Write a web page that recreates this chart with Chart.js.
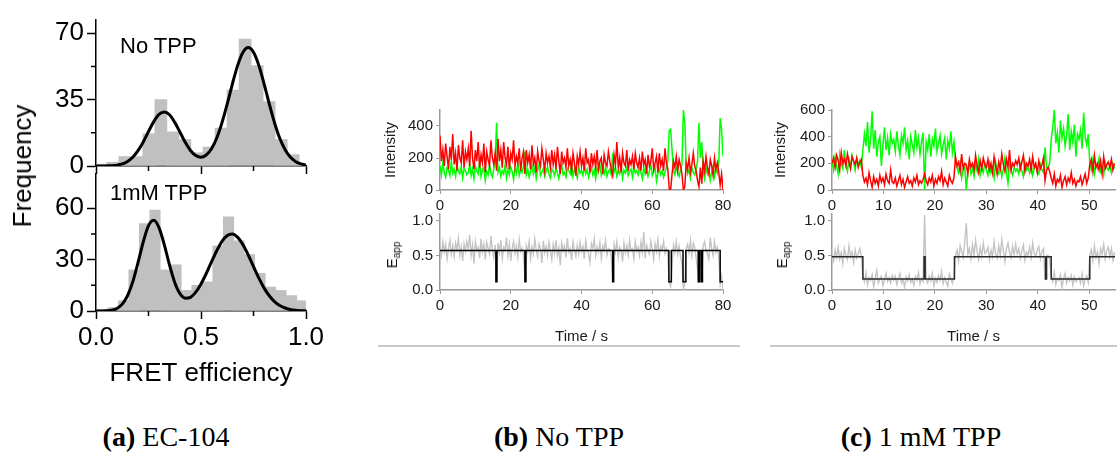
<!DOCTYPE html>
<html>
<head>
<meta charset="utf-8">
<script src="https://cdn.jsdelivr.net/npm/chart.js@4.4.1/dist/chart.umd.min.js"></script>
<style>
  html, body { margin: 0; padding: 0; background: #fff; }
  #fig { position: relative; width: 1117px; height: 460px; overflow: hidden; font-family: "Liberation Sans", Arial, sans-serif; color: #000; }
  canvas { position: absolute; }
  .lbl { position: absolute; white-space: nowrap; line-height: 1; }
  .rot { transform: translate(-50%, -50%) rotate(-90deg); }
  .note { font-size: 22px; transform: translateY(-50%); }
  .eapp { font-size: 15px; color: #111; }
  .eapp sub { font-size: 10px; vertical-align: -3px; }
  .cap { position: absolute; top: 437px; transform: translate(-50%, -50%); font-family: "Liberation Serif", "Times New Roman", serif; font-size: 28px; white-space: nowrap; }
  .rule { position: absolute; top: 345px; height: 2px; background: #c8c8c8; }
</style>
</head>
<body>
<div id="fig">
  <canvas id="histTop" width="330" height="190" style="left:0;top:0"></canvas>
  <canvas id="histBot" width="330" height="240" style="left:0;top:150px"></canvas>
  <canvas id="noIntensity" width="370" height="125" style="left:370px;top:95px"></canvas>
  <canvas id="noEapp" width="370" height="152" style="left:370px;top:196px"></canvas>
  <canvas id="tppIntensity" width="357" height="125" style="left:760px;top:95px"></canvas>
  <canvas id="tppEapp" width="357" height="152" style="left:760px;top:196px"></canvas>

  <div class="lbl rot" style="left:22px;top:166px;font-size:26px">Frequency</div>
  <div class="lbl note" style="left:120px;top:46px">No TPP</div>
  <div class="lbl note" style="left:110px;top:193px">1mM TPP</div>
  <div class="lbl rot eapp" style="left:393px;top:255px">E<sub>app</sub></div>
  <div class="lbl rot eapp" style="left:783px;top:255px">E<sub>app</sub></div>

  <div class="rule" style="left:378px;width:362px"></div>
  <div class="rule" style="left:770px;width:347px"></div>

  <div class="cap" style="left:166px"><b>(a)</b> EC-104</div>
  <div class="cap" style="left:559px"><b>(b)</b> No TPP</div>
  <div class="cap" style="left:921px"><b>(c)</b> 1 mM TPP</div>
</div>
<script>
// ---- (a) FRET efficiency histograms with two-gaussian fits ----
const topBinCenters = [0.0224, 0.0797, 0.1370, 0.1943, 0.2516, 0.3089, 0.3662, 0.4235, 0.4808,
  0.5381, 0.5954, 0.6527, 0.7100, 0.7673, 0.8246, 0.8819, 0.9392, 0.9965];
const topCounts = [1, 2, 5, 5, 17, 35, 18, 14, 7, 10, 20, 40, 67, 53, 34, 14, 6, 1];

const botBinCenters = [0.031, 0.081, 0.131, 0.181, 0.231, 0.281, 0.331, 0.381, 0.431, 0.481,
  0.531, 0.581, 0.631, 0.681, 0.731, 0.781, 0.831, 0.881, 0.931, 0.981];
const botCounts = [1, 2, 6, 24, 51, 59, 24, 27, 12, 15, 17, 38, 55, 41, 33, 22, 14, 12, 9, 6];

const fitX = [0, 0.025, 0.05, 0.075, 0.1, 0.125, 0.15, 0.175, 0.2, 0.225, 0.25, 0.275, 0.3, 0.325,
  0.35, 0.375, 0.4, 0.425, 0.45, 0.475, 0.5, 0.525, 0.55, 0.575, 0.6, 0.625, 0.65, 0.675, 0.7,
  0.725, 0.75, 0.775, 0.8, 0.825, 0.85, 0.875, 0.9, 0.925, 0.95, 0.975, 1];
const topFit = [0, 0.02, 0.06, 0.17, 0.46, 1.1, 2.4, 4.6, 8.1, 12.7, 18.2, 23.4, 27.2, 28.5,
  27.0, 23.0, 17.8, 12.5, 8.2, 5.5, 4.6, 5.8, 9.1, 14.8, 22.9, 32.8, 43.5, 53.2, 60.0,
  62.5, 60.0, 53.2, 43.5, 32.8, 22.8, 14.6, 8.7, 4.7, 2.4, 1.1, 0.5];
const botFit = [0.01, 0.04, 0.15, 0.5, 1.5, 4.0, 8.9, 17.0, 28.2, 40.3, 49.8, 53.0, 48.7, 38.8,
  26.9, 16.7, 10.1, 7.5, 8.0, 11.0, 15.8, 21.9, 28.7, 35.2, 40.7, 44.1, 45.0, 43.0, 38.7,
  32.7, 25.9, 19.3, 13.5, 8.9, 5.5, 3.2, 1.75, 0.9, 0.43, 0.2, 0.09];

// ---- (b) No TPP single-molecule trace, 0.4 s frames ----
const bDt = 0.4;
const bGreen = [
  150, 95, 170, 110, 80, 140, 125, 90, 180, 105, 130, 85, 160, 115, 100, 145, 75, 135, 120, 95,
  110, 165, 90, 130, 70, 150, 120, 100, 175, 85, 125, 140, 60, 115, 95, 155, 105, 80, 130, 190,
  420, 110, 140, 85, 120, 100, 160, 75, 130, 95, 145, 115, 65, 135, 105, 170, 90, 125, 110, 150,
  240, 95, 130, 80, 115, 150, 100, 140, 70, 125, 160, 90, 110, 135, 85, 120, 145, 100, 75, 130,
  115, 90, 140, 105, 70, 125, 155, 95, 110, 80, 135, 120, 100, 165, 85, 130, 110, 75, 145, 105,
  120, 90, 150, 100, 130, 80, 115, 140, 95, 125, 70, 135, 110, 160, 90, 120, 100, 145, 85, 115,
  130, 95, 230, 110, 140, 85, 120, 100, 155, 75, 125, 105, 140, 90, 115, 130, 80, 150, 105, 120,
  95, 135, 110, 70, 145, 100, 125, 85, 120, 160, 90, 115, 140, 55, 105, 130, 95, 120, 80, 110,
  140, 180, 370, 380, 250, 120, 95, 140, 110, 85, 130, 160, 500, 420, 150, 100, 125, 75, 140, 110,
  95, 130, 180, 420, 200, 300, 120, 70, 140, 100, 125, 60, 115, 150, 85, 130, 105, 160, 450, 380,
  210];
const bRed = [
  340, 180, 250, 150, 290, 210, 130, 270, 190, 350, 160, 230, 120, 280, 200, 170, 310, 140, 240, 190,
  260, 150, 370, 200, 130, 250, 180, 300, 140, 220, 170, 290, 110, 240, 190, 150, 310, 200, 160, 230,
  120, 320, 180, 250, 140, 300, 200, 160, 270, 130, 230, 190, 310, 150, 210, 170, 260, 120, 200, 240,
  100, 250, 170, 220, 130, 280, 160, 200, 110, 240, 180, 150, 260, 190, 120, 230, 170, 210, 140, 250,
  160, 220, 130, 270, 180, 100, 240, 170, 200, 140, 260, 150, 190, 120, 230, 170, 90, 210, 160, 240,
  150, 200, 120, 260, 170, 190, 110, 230, 160, 210, 140, 250, 130, 180, 200, 100, 220, 170, 150, 240,
  180, 130, 90, 220, 160, 300, 140, 200, 110, 230, 170, 150, 250, 120, 190, 160, 210, 130, 230, 170,
  140, 200, 120, 240, 160, 190, 100, 220, 150, 180, 260, 130, 170, 210, 110, 230, 150, 190, 120, 260,
  170, 130, 10, 0, 100, 180, 140, 210, 120, 190, 150, 100, 0, 20, 170, 130, 200, 110, 160, 230,
  150, 120, 60, 20, 140, 40, 180, 120, 210, 140, 100, 190, 150, 90, 200, 130, 170, 110, 30, 100,
  0];
const bEapp = [
  0.62, 0.5, 0.7, 0.55, 0.66, 0.45, 0.6, 0.72, 0.52, 0.64, 0.48, 0.68, 0.58, 0.75, 0.5, 0.63, 0.42, 0.67, 0.56, 0.7,
  0.6, 0.8, 0.5, 0.65, 0.38, 0.7, 0.57, 0.62, 0.46, 0.74, 0.55, 0.66, 0.44, 0.69, 0.6, 0.52, 0.78, 0.58, 0.47, 0.65,
  0.15, 0.68, 0.54, 0.72, 0.46, 0.62, 0.58, 0.76, 0.5, 0.66, 0.42, 0.6, 0.7, 0.53, 0.64, 0.48, 0.73, 0.56, 0.61, 0.5,
  0.2, 0.64, 0.55, 0.7, 0.45, 0.62, 0.52, 0.74, 0.58, 0.48, 0.67, 0.6, 0.39, 0.71, 0.54, 0.63, 0.5, 0.69, 0.57, 0.44,
  0.66, 0.53, 0.72, 0.5, 0.61, 0.36, 0.68, 0.57, 0.64, 0.47, 0.75, 0.55, 0.6, 0.43, 0.7, 0.58, 0.49, 0.65, 0.52, 0.69,
  0.56, 0.63, 0.45, 0.71, 0.58, 0.52, 0.4, 0.67, 0.6, 0.74, 0.5, 0.62, 0.55, 0.69, 0.46, 0.64, 0.57, 0.72, 0.51, 0.6,
  0.58, 0.48, 0.18, 0.66, 0.55, 0.7, 0.47, 0.62, 0.58, 0.41, 0.68, 0.54, 0.64, 0.5, 0.72, 0.57, 0.6, 0.45, 0.7, 0.56,
  0.62, 0.5, 0.69, 0.55, 0.84, 0.46, 0.65, 0.58, 0.52, 0.71, 0.6, 0.44, 0.67, 0.56, 0.73, 0.49, 0.63, 0.58, 0.7, 0.53,
  0.6, 0.5, 0.1, 0.05, 0.35, 0.65, 0.55, 0.7, 0.52, 0.63, 0.48, 0.4, 0.02, 0.08, 0.6, 0.66, 0.54, 0.72, 0.5, 0.68,
  0.62, 0.47, 0.3, 0.1, 0.55, 0.15, 0.64, 0.7, 0.58, 0.52, 0.45, 0.76, 0.6, 0.5, 0.7, 0.55, 0.62, 0.48, 0.08, 0.2,
  0];
// HMM idealised states: time of each level change and the level that follows it
const bStepT = [0, 15.8, 16.1, 24.0, 24.3, 48.8, 49.1, 64.7, 65.4, 68.7, 69.5, 73.0, 73.4, 73.9, 74.2, 79.2, 80];
const bStepE = [0.57, 0.12, 0.57, 0.12, 0.57, 0.12, 0.57, 0.12, 0.57, 0.12, 0.57, 0.12, 0.57, 0.12, 0.57, 0.12, 0.12];

// ---- (c) 1 mM TPP single-molecule trace, 0.3 s frames ----
const cDt = 0.3;
const cGreen = [
  210, 150, 250, 180, 120, 270, 200, 160, 300, 190, 140, 230, 170, 260, 210, 150, 240, 190, 220, 170,
  300, 420, 330, 510, 280, 380, 590, 310, 450, 250, 360, 400, 180, 340, 470, 300, 390, 260, 420, 350,
  380, 290, 440, 330, 260, 410, 350, 470, 300, 370, 230, 400, 340, 280, 450, 320, 390, 270, 360, 430,
  0, 360, 300, 420, 250, 380, 330, 460, 290, 350, 410, 270, 340, 390, 230, 370, 310, 440, 280, 360,
  220, 170, 130, 200, 90, 150, 180, 0, 140, 210, 120, 160, 100, 190, 140, 230, 110, 170, 130, 200,
  150, 110, 200, 130, 170, 90, 210, 140, 120, 180, 100, 160, 240, 130, 50, 190, 150, 110, 170, 140,
  160, 120, 190, 140, 100, 210, 150, 170, 130, 200, 110, 160, 180, 140, 120, 190, 150, 130, 320, 170,
  160, 200, 380, 470, 600, 350, 430, 280, 520, 390, 460, 330, 410, 570, 300, 440, 360, 490, 250, 420,
  380, 450, 310, 580, 400, 340, 420, 200, 150, 230, 120, 190, 160, 240, 140, 180, 110, 210, 170, 150,
  180, 130, 200, 160];
const cRed = [
  200, 240, 170, 260, 220, 150, 280, 200, 230, 180, 270, 210, 160, 250, 220, 190, 240, 170, 210, 230,
  110, 60, 90, 40, 130, 70, 20, 100, 50, 80, 30, 110, 60, 90, 40, 120, 70, 50, 150, 60,
  50, 90, 30, 70, 110, 40, 80, 20, 60, 100, 50, 70, 30, 90, 60, 110, 40, 70, 50, 80,
  120, 70, 40, 90, 60, 110, 30, 80, 50, 100, 70, 140, 40, 90, 60, 30, 110, 70, 50, 90,
  250, 180, 210, 140, 270, 160, 200, 190, 120, 230, 170, 200, 150, 260, 180, 130, 220, 160, 240, 190,
  170, 230, 150, 200, 130, 250, 180, 120, 210, 160, 270, 190, 140, 230, 170, 300, 150, 200, 180, 220,
  190, 240, 160, 210, 260, 140, 200, 180, 230, 150, 250, 170, 200, 130, 220, 160, 190, 240, 70, 150,
  170, 140, 90, 50, 120, 30, 80, 60, 110, 20, 70, 100, 40, 90, 60, 130, 50, 80, 30, 70,
  60, 100, 40, 80, 120, 50, 90, 190, 230, 140, 260, 170, 200, 150, 220, 120, 250, 160, 190, 210,
  170, 230, 150, 200];
const cEapp = [
  0.5, 0.42, 0.58, 0.47, 0.62, 0.45, 0.54, 0.38, 0.6, 0.5, 0.44, 0.64, 0.48, 0.55, 0.4, 0.58, 0.46, 0.52, 0.6, 0.49,
  0.2, 0.12, 0.25, 0.08, 0.18, 0.14, 0.22, 0.05, 0.17, 0.28, 0.1, 0.16, 0.2, 0.06, 0.15, 0.24, 0.12, 0.18, 0.1, 0.21,
  0.14, 0.2, 0.08, 0.17, 0.24, 0.1, 0.15, 0.04, 0.19, 0.13, 0.22, 0.11, 0.16, 0.07, 0.2, 0.14, 0.25, 0.09, 0.17, 0.12,
  1.08, 0.15, 0.1, 0.2, 0.13, 0.24, 0.06, 0.17, 0.11, 0.21, 0.14, 0.27, 0.09, 0.18, 0.12, 0.05, 0.23, 0.16, 0.1, 0.19,
  0.5, 0.58, 0.42, 0.64, 0.55, 0.47, 0.7, 0.97, 0.52, 0.6, 0.45, 0.66, 0.5, 0.72, 0.56, 0.44, 0.62, 0.48, 0.68, 0.53,
  0.55, 0.62, 0.44, 0.58, 0.48, 0.7, 0.52, 0.46, 0.64, 0.5, 0.73, 0.57, 0.41, 0.6, 0.68, 0.55, 0.47, 0.63, 0.51, 0.66,
  0.52, 0.6, 0.46, 0.57, 0.65, 0.43, 0.55, 0.5, 0.62, 0.47, 0.68, 0.53, 0.49, 0.58, 0.63, 0.45, 0.56, 0.6, 0.14, 0.5,
  0.5, 0.44, 0.2, 0.12, 0.26, 0.08, 0.17, 0.14, 0.22, 0.04, 0.16, 0.24, 0.1, 0.18, 0.13, 0.21, 0.07, 0.19, 0.12, 0.15,
  0.18, 0.1, 0.23, 0.06, 0.15, 0.2, 0.11, 0.5, 0.58, 0.42, 0.64, 0.47, 0.55, 0.38, 0.6, 0.52, 0.66, 0.45, 0.57, 0.62,
  0.48, 0.6, 0.43, 0.55];
const cStepT = [0, 6.0, 17.9, 18.1, 23.8, 41.5, 41.7, 42.6, 50.1, 55];
const cStepE = [0.48, 0.16, 0.48, 0.16, 0.48, 0.16, 0.48, 0.16, 0.48, 0.48];

const SANS = '"Liberation Sans", Arial, Helvetica, sans-serif';
const AXIS_GREY = '#9a9a9a';

// short unlabelled ticks between the labelled ones
const minorTicks = {
  id: 'minorTicks',
  afterDatasetsDraw(chart, args, opts) {
    const { ctx, chartArea: area, scales } = chart;
    ctx.save();
    ctx.strokeStyle = opts.color;
    ctx.lineWidth = opts.width;
    ctx.beginPath();
    (opts.x || []).forEach((v) => {
      const px = scales.x.getPixelForValue(v);
      ctx.moveTo(px, area.bottom);
      ctx.lineTo(px, area.bottom + opts.len);
    });
    (opts.y || []).forEach((v) => {
      const py = scales.y.getPixelForValue(v);
      ctx.moveTo(area.left, py);
      ctx.lineTo(area.left - opts.len, py);
    });
    ctx.stroke();
    ctx.restore();
  },
};

const base = {
  responsive: false,
  animation: false,
  devicePixelRatio: 1,
  events: [],
};

const histChart = (id, centers, counts, fit, yMax, yStep, minorY, padTop, xAxisH, withLabels) => new Chart(document.getElementById(id), {
  type: 'bar',
  data: {
    datasets: [
      {
        type: 'line',
        data: fitX.map((x, i) => ({ x, y: fit[i] })),
        borderColor: '#000',
        borderWidth: 3,
        pointRadius: 0,
        cubicInterpolationMode: 'monotone',
        order: 0,
      },
      {
        data: centers.map((x, i) => ({ x, y: counts[i] })),
        backgroundColor: '#c0c0c0',
        barPercentage: 1,
        categoryPercentage: 1,
        order: 1,
      },
    ],
  },
  options: {
    ...base,
    layout: { padding: { left: 0, top: padTop, right: 24, bottom: 0 } },
    plugins: {
      legend: { display: false },
      tooltip: { enabled: false },
      minorTicks: { x: [0.25, 0.75], y: minorY, len: 5, color: '#000', width: 1.5 },
    },
    scales: {
      x: {
        type: 'linear',
        min: 0,
        max: 1,
        offset: false,
        border: { color: '#000', width: 1.5 },
        grid: { offset: false, drawOnChartArea: false, color: '#000', tickLength: 8, tickWidth: 1.5 },
        ticks: {
          display: withLabels, stepSize: 0.5, includeBounds: false, maxRotation: 0, padding: 3,
          color: '#000', font: { family: SANS, size: 26 }, callback: (v) => v.toFixed(1),
        },
        title: {
          display: withLabels, text: 'FRET efficiency', color: '#000',
          font: { family: SANS, size: 26 }, padding: { top: 0, bottom: 1 },
        },
        afterFit: (s) => { s.height = xAxisH; },
      },
      y: {
        min: 0,
        max: yMax,
        border: { color: '#000', width: 1.5 },
        grid: { drawOnChartArea: false, color: '#000', tickLength: 9, tickWidth: 1.5 },
        ticks: { stepSize: yStep, includeBounds: false, padding: 3, color: '#000', font: { family: SANS, size: 26 } },
        afterFit: (s) => { s.width = 96; },
      },
    },
  },
  plugins: [minorTicks],
});

histChart('histTop', topBinCenters, topCounts, topFit, 77, 35, [17.5, 52.5], 20, 24, false);
histChart('histBot', botBinCenters, botCounts, botFit, 80, 30, [15, 45], 24, 79, true);

const series = (dt, values) => values.map((y, i) => ({ x: i * dt, y }));
const levels = (ts, es) => ts.map((x, i) => ({ x, y: es[i] }));

const traceScales = (xMax, xStep, yMax, yStep, yLabel, xTitle, yAxisW, xAxisH, yFmt) => ({
  x: {
    type: 'linear',
    min: 0,
    max: xMax,
    border: { color: AXIS_GREY, width: 1.5 },
    grid: { drawOnChartArea: false, color: AXIS_GREY, tickLength: 4, tickWidth: 1 },
    ticks: {
      stepSize: xStep, includeBounds: false, maxRotation: 0, padding: 3,
      color: '#1a1a1a', font: { family: SANS, size: 15 },
    },
    title: {
      display: !!xTitle, text: xTitle, color: '#1a1a1a',
      font: { family: SANS, size: 15 }, padding: { top: 0, bottom: 2 },
    },
    afterFit: (s) => { s.height = xAxisH; },
  },
  y: {
    min: 0,
    max: yMax,
    border: { color: AXIS_GREY, width: 1.5 },
    grid: { drawOnChartArea: false, color: AXIS_GREY, tickLength: 4, tickWidth: 1 },
    ticks: {
      stepSize: yStep, includeBounds: false, padding: 3,
      color: '#1a1a1a', font: { family: SANS, size: 15 }, callback: yFmt,
    },
    title: {
      display: !!yLabel, text: yLabel, color: '#1a1a1a',
      font: { family: SANS, size: 15 }, padding: { top: 12, bottom: 0 },
    },
    afterFit: (s) => { s.width = yAxisW; },
  },
});

const traceLine = (data, color, width, order, stepped) => ({
  data, borderColor: color, borderWidth: width, pointRadius: 0, tension: 0, order, stepped: stepped || false,
});

const intensityChart = (id, dt, green, red, xMax, xStep, yMax, padRight, yAxisW) => new Chart(document.getElementById(id), {
  type: 'line',
  data: {
    datasets: [
      traceLine(series(dt, red), '#ff0000', 1.5, 0),
      traceLine(series(dt, green), '#00ff00', 1.5, 1),
    ],
  },
  options: {
    ...base,
    layout: { padding: { left: 0, top: 15, right: padRight, bottom: 0 } },
    plugins: { legend: { display: false }, tooltip: { enabled: false } },
    scales: traceScales(xMax, xStep, yMax, 200, 'Intensity', '', yAxisW, 30, (v) => v),
  },
});

const eappChart = (id, dt, eapp, stepT, stepE, stepColor, xMax, xStep, padRight, yAxisW) => new Chart(document.getElementById(id), {
  type: 'line',
  data: {
    datasets: [
      traceLine(levels(stepT, stepE), stepColor, 1.5, 0, 'before'),
      traceLine(series(dt, eapp), '#c4c4c4', 1.4, 1),
    ],
  },
  options: {
    ...base,
    layout: { padding: { left: 0, top: 18, right: padRight, bottom: 0 } },
    plugins: { legend: { display: false }, tooltip: { enabled: false } },
    scales: traceScales(xMax, xStep, 1.1, 0.5, '', 'Time / s', yAxisW, 58, (v) => v.toFixed(1)),
  },
});

intensityChart('noIntensity', bDt, bGreen, bRed, 80, 20, 500, 17, 70);
eappChart('noEapp', bDt, bEapp, bStepT, bStepE, '#000', 80, 20, 17, 70);
intensityChart('tppIntensity', cDt, cGreen, cRed, 55, 10, 600, 2, 72);
eappChart('tppEapp', cDt, cEapp, cStepT, cStepE, '#2a2a2a', 55, 10, 2, 72);
</script>
</body>
</html>
